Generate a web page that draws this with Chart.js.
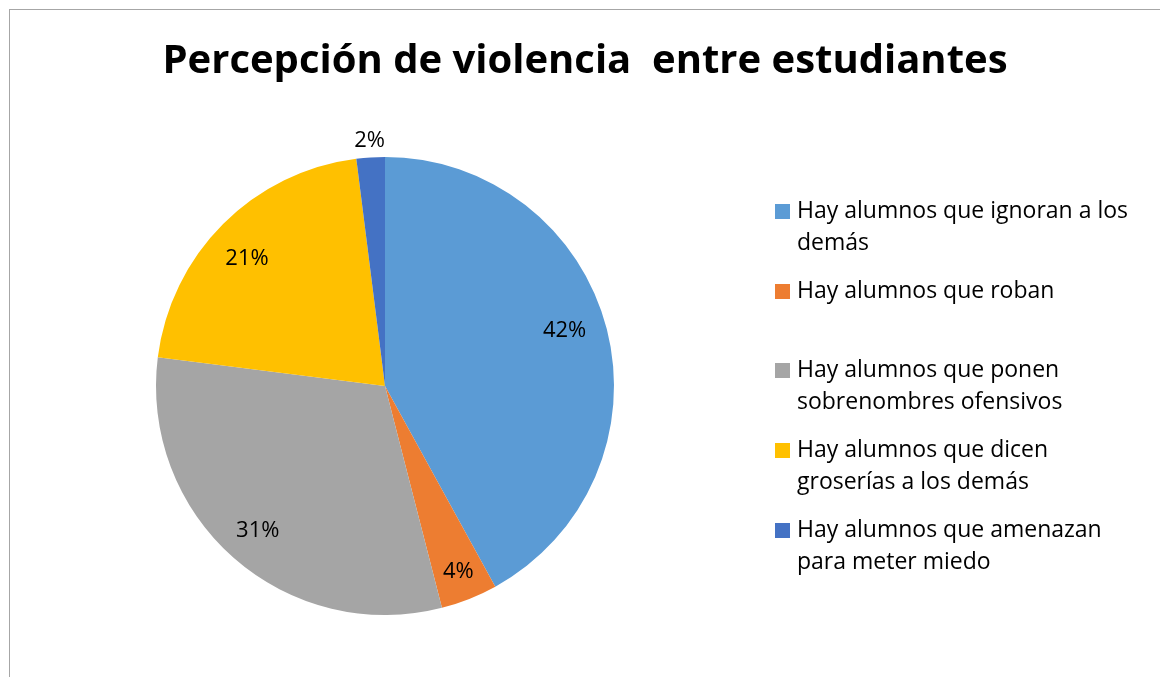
<!DOCTYPE html>
<html>
<head>
<meta charset="utf-8">
<script src="https://cdn.jsdelivr.net/npm/chart.js@4.4.1/dist/chart.umd.min.js"></script>
<style>
  html, body { margin: 0; padding: 0; background: #fff; overflow: hidden; }
  #frame { position: absolute; left: 9px; top: 9px; width: 1200px; height: 700px; border: 1px solid #a6a6a6; box-sizing: border-box; }
  #wrap { position: absolute; left: 0; top: 0; width: 1160px; height: 677px; }
</style>
</head>
<body>
<div id="frame"></div>
<div id="wrap"><canvas id="c" width="1160" height="677"></canvas></div>
<script>
// --- data ---
const chartTitle = "Percepción de violencia  entre estudiantes";
const categories = [
  "Hay alumnos que ignoran a los demás",
  "Hay alumnos que roban",
  "Hay alumnos que ponen sobrenombres ofensivos",
  "Hay alumnos que dicen groserías a los demás",
  "Hay alumnos que amenazan para meter miedo"
];
const legendLines = [
  ["Hay alumnos que ignoran a los", "demás"],
  ["Hay alumnos que roban"],
  ["Hay alumnos que ponen", "sobrenombres ofensivos"],
  ["Hay alumnos que dicen", "groserías a los demás"],
  ["Hay alumnos que amenazan", "para meter miedo"]
];
const percentValues = [42, 4, 31, 21, 2];
const sliceColors = ["#5B9BD5", "#ED7D31", "#A5A5A5", "#FFC000", "#4472C4"];

const FONT = '"Open Sans", "Noto Sans", sans-serif';

// title, legend and percent labels, drawn on the canvas
const decorations = {
  id: "decorations",
  afterDraw(chart) {
    const ctx = chart.ctx;
    ctx.save();
    ctx.fillStyle = "#000";

    // title
    ctx.font = "bold 40px " + FONT;
    ctx.textAlign = "center";
    ctx.textBaseline = "middle";
    ctx.fillText(chartTitle, 585, 62);

    // percent labels (roughly Excel's best-fit spots)
    const radial = [0.82, 0.87, 0.84, 0.82, 1.075];
    const nudge = [-0.045, 0, 0, -0.04, 0]; // radians
    ctx.font = "22px " + FONT;
    const meta = chart.getDatasetMeta(0);
    meta.data.forEach((arc, i) => {
      const p = arc.getProps(["x", "y", "startAngle", "endAngle", "outerRadius"], true);
      const mid = (p.startAngle + p.endAngle) / 2 + nudge[i];
      const d = p.outerRadius * radial[i];
      ctx.fillText(percentValues[i] + "%", p.x + Math.cos(mid) * d, p.y + Math.sin(mid) * d);
    });

    // legend
    const rowsY = [211, 291, 370, 450, 530];
    const lineH = 32;
    ctx.textAlign = "left";
    ctx.font = "23px " + FONT;
    legendLines.forEach((lines, i) => {
      ctx.fillStyle = sliceColors[i];
      ctx.fillRect(775, rowsY[i] - 7, 15, 15);
      ctx.fillStyle = "#000";
      lines.forEach((t, j) => ctx.fillText(t, 797, rowsY[i] + j * lineH));
    });
    ctx.restore();
  }
};

new Chart(document.getElementById("c"), {
  type: "pie",
  data: {
    labels: categories,
    datasets: [{
      data: percentValues,
      backgroundColor: sliceColors,
      borderWidth: 0
    }]
  },
  options: {
    responsive: false,
    animation: false,
    layout: { padding: { left: 156, top: 157, right: 546, bottom: 62 } },
    plugins: {
      legend: { display: false },
      title: { display: false },
      tooltip: { enabled: false }
    }
  },
  plugins: [decorations]
});
</script>
</body>
</html>
